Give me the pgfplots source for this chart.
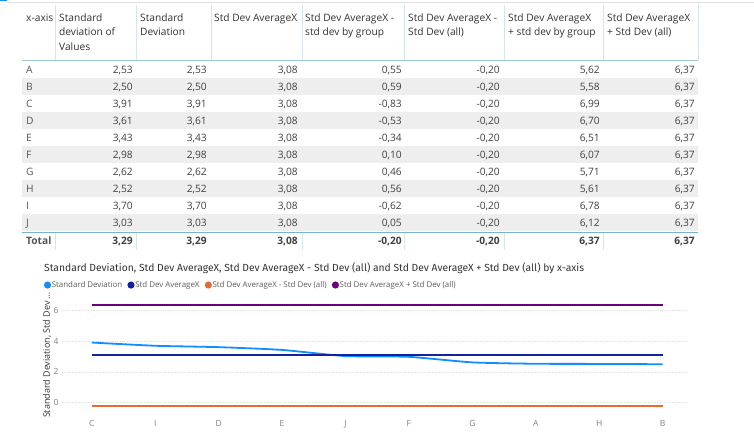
\documentclass[border=0pt]{standalone}
\usepackage{pgfplots}
\pgfplotsset{compat=1.18}
\usepackage{fontspec}
\setmainfont{Open Sans}
\newfontfamily\titlefont{Fira Sans}
\definecolor{sdblue}{HTML}{118DFF}
\definecolor{avgnavy}{HTML}{12239E}
\definecolor{orng}{HTML}{E66C37}
\definecolor{purp}{HTML}{6B007B}
\definecolor{hdtext}{HTML}{333333}
\definecolor{num}{HTML}{404040}
\definecolor{lbl}{HTML}{555555}
\definecolor{rowshade}{HTML}{EEEEEE}
\definecolor{sepc}{HTML}{D3E6ED}
\definecolor{hline}{HTML}{9CCADB}
\definecolor{tline}{HTML}{78B4D2}
\definecolor{legendgray}{HTML}{605E5C}
\definecolor{tickgray}{HTML}{808080}
\newcommand\hd[3]{\node[anchor=base west,inner sep=0,text=hdtext] at (#1pt,-#2pt) {#3};}
\newcommand\trow[9]{%
 \node[anchor=base west,inner sep=0,text=lbl] at (26pt,-#1pt) {#2};
 \node[anchor=base east,inner sep=0,text=num] at (133pt,-#1pt) {#3};
 \node[anchor=base east,inner sep=0,text=num] at (207pt,-#1pt) {#4};
 \node[anchor=base east,inner sep=0,text=num] at (298pt,-#1pt) {#5};
 \node[anchor=base east,inner sep=0,text=num] at (402pt,-#1pt) {#6};
 \node[anchor=base east,inner sep=0,text=num] at (500pt,-#1pt) {#7};
 \node[anchor=base east,inner sep=0,text=num] at (600pt,-#1pt) {#8};
 \node[anchor=base east,inner sep=0,text=num] at (695pt,-#1pt) {#9};}
\begin{document}
\begin{tikzpicture}
\fill[white] (0pt,0pt) rectangle (754pt,-435pt);
\path[use as bounding box] (0pt,0pt) rectangle (754pt,-435pt);
\fill[sdblue] (0pt,0pt) rectangle (7pt,-1.5pt);
\draw[gray!25] (8pt,-2.5pt) -- (754pt,-2.5pt);
% row shading
\foreach \c in {87,121,155,189,223} \fill[rowshade] (22pt,-\c pt+8.5pt) rectangle (698pt,-\c pt-8.5pt);
% header separators
\foreach \x in {55,136,211,302,404,504,603,698} \draw[sepc] (\x pt,-5pt) -- (\x pt,-60pt);
\draw[hline,line width=0.8pt] (22pt,-60pt) -- (698pt,-60pt);
\draw[tline,line width=0.8pt] (22pt,-232.5pt) -- (698pt,-232.5pt);
\foreach \x in {55,136,302,404,504,603} \draw[sepc] (\x pt,-233pt) -- (\x pt,-250pt);
\begingroup\fontsize{10.2}{12}\selectfont
\hd{26}{21.5}{x-axis}
\hd{59}{21.5}{Standard}\hd{59}{36}{deviation of}\hd{59}{50.5}{Values}
\hd{140}{21.5}{Standard}\hd{140}{36}{Deviation}
\hd{214}{21.5}{Std Dev AverageX}
\hd{305}{21.5}{Std Dev AverageX -}\hd{305}{36}{std dev by group}
\hd{408}{21.5}{Std Dev AverageX -}\hd{408}{36}{Std Dev (all)}
\hd{508}{21.5}{Std Dev AverageX}\hd{508}{36}{+ std dev by group}
\hd{607}{21.5}{Std Dev AverageX}\hd{607}{36}{+ Std Dev (all)}
\trow{73.5}{A}{2,53}{2,53}{3,08}{0,55}{-0,20}{5,62}{6,37}
\trow{90.5}{B}{2,50}{2,50}{3,08}{0,59}{-0,20}{5,58}{6,37}
\trow{107.5}{C}{3,91}{3,91}{3,08}{-0,83}{-0,20}{6,99}{6,37}
\trow{124.5}{D}{3,61}{3,61}{3,08}{-0,53}{-0,20}{6,70}{6,37}
\trow{141.5}{E}{3,43}{3,43}{3,08}{-0,34}{-0,20}{6,51}{6,37}
\trow{158.5}{F}{2,98}{2,98}{3,08}{0,10}{-0,20}{6,07}{6,37}
\trow{175.5}{G}{2,62}{2,62}{3,08}{0,46}{-0,20}{5,71}{6,37}
\trow{192.5}{H}{2,52}{2,52}{3,08}{0,56}{-0,20}{5,61}{6,37}
\trow{209.5}{I}{3,70}{3,70}{3,08}{-0,62}{-0,20}{6,78}{6,37}
\trow{226.5}{J}{3,03}{3,03}{3,08}{0,05}{-0,20}{6,12}{6,37}
\bfseries
\trow{245}{Total}{3,29}{3,29}{3,08}{-0,20}{-0,20}{6,37}{6,37}
\endgroup
\node[anchor=base west,inner sep=0,text=hdtext,font=\titlefont\fontsize{10.3}{11}\selectfont] at (44pt,-271.5pt) {Standard Deviation, Std Dev AverageX, Std Dev AverageX - Std Dev (all) and Std Dev AverageX + Std Dev (all) by x-axis};
\begin{axis}[
 at={(62pt,-295pt)}, anchor=north west,
 scale only axis, width=626pt, height=120pt,
 xmin=-0.47, xmax=9.4, ymin=-0.8, ymax=7.0,
 axis line style={draw=none},
 major tick length=0pt,
 xtick={0,...,9}, xticklabels={C,I,D,E,J,F,G,A,H,B},
 ytick={0,2,4,6},
 /pgf/number format/assume math mode=true,
 ymajorgrids, grid style={gray!30, dotted, line width=0.8pt},
 ticklabel style={font=\fontsize{8.5}{9}\selectfont, text=tickgray},
 xticklabel style={yshift=-2pt},
 ylabel={Standard Deviation, Std Dev …},
 ylabel style={font=\fontsize{9}{10}\selectfont, text=hdtext, at={(axis description cs:-0.024,0.5)}, anchor=center},
 legend style={at={(axis description cs:-0.029,1.083)}, anchor=west, draw=none, fill=none,
   font=\fontsize{7.9}{9}\selectfont, text=legendgray, inner sep=0pt,
   nodes={inner xsep=0.8pt, inner ysep=1pt},
   /tikz/every odd column/.append style={column sep=0pt},
   /tikz/every even column/.append style={column sep=4.5pt}},
 legend columns=-1,
 legend image code/.code={\fill (2.5pt,0pt) circle (2.6pt);},
]
\addplot[sdblue, line width=1.8pt, smooth, tension=0.35] coordinates {(0,3.91)(1,3.70)(2,3.61)(3,3.43)(4,3.03)(5,2.98)(6,2.62)(7,2.53)(8,2.52)(9,2.50)};
\addlegendentry{Standard Deviation}
\addplot[avgnavy, line width=1.8pt] coordinates {(0,3.08)(1,3.08)(2,3.08)(3,3.08)(4,3.08)(5,3.08)(6,3.08)(7,3.08)(8,3.08)(9,3.08)};
\addlegendentry{Std Dev AverageX}
\addplot[orng, line width=1.8pt] coordinates {(0,-0.20)(1,-0.20)(2,-0.20)(3,-0.20)(4,-0.20)(5,-0.20)(6,-0.20)(7,-0.20)(8,-0.20)(9,-0.20)};
\addlegendentry{Std Dev AverageX - Std Dev (all)}
\addplot[purp, line width=1.8pt] coordinates {(0,6.37)(1,6.37)(2,6.37)(3,6.37)(4,6.37)(5,6.37)(6,6.37)(7,6.37)(8,6.37)(9,6.37)};
\addlegendentry{Std Dev AverageX + Std Dev (all)}
\end{axis}
\end{tikzpicture}
\end{document}
